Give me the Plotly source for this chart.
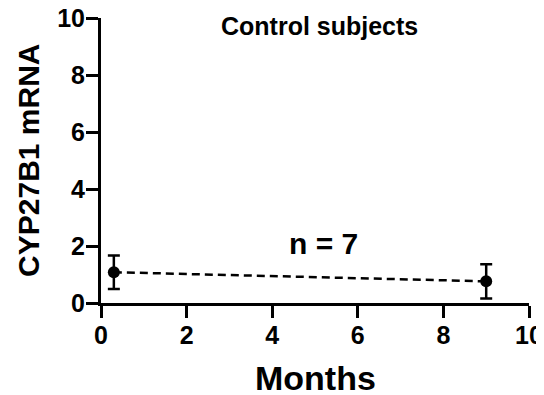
import plotly.graph_objects as go

months = [0.3, 9.0]
mrna_mean = [1.08, 0.76]
mrna_err = [0.59, 0.6]
x_ticks = [0, 2, 4, 6, 8, 10]
y_ticks = [0, 2, 4, 6, 8, 10]

FONT = "Liberation Sans, Arial, sans-serif"

fig = go.Figure()
fig.add_trace(go.Scatter(
    x=months, y=mrna_mean, mode="lines+markers",
    line=dict(color="black", width=2.5, dash="8px,5px"),
    marker=dict(color="black", size=12),
    error_y=dict(type="data", array=mrna_err, color="black", thickness=2.5, width=6),
    cliponaxis=False, showlegend=False,
))

# page body has an 8px margin, so the figure is offset by (8, 8)
fig.update_layout(
    width=536, height=387,
    margin=dict(l=93, r=15, t=10, b=91.5),
    plot_bgcolor="white", paper_bgcolor="white",
    font=dict(family=FONT, color="black"),
    annotations=[
        dict(text="<b>Control subjects</b>", x=5.1, y=9.72, xref="x", yref="y",
             showarrow=False, font=dict(size=25, family=FONT, color="black"),
             yanchor="middle", xanchor="center"),
        dict(text="<b>n = 7</b>", x=5.19, y=2.08, xref="x", yref="y",
             showarrow=False, font=dict(size=30, family=FONT, color="black"),
             yanchor="middle", xanchor="center"),
        dict(text="<b>Months</b>", x=0.5, y=-0.262, xref="paper", yref="paper",
             showarrow=False, font=dict(size=34, family=FONT, color="black"),
             yanchor="middle", xanchor="center"),
        dict(text="<b>CYP27B1 mRNA</b>", x=-0.169, y=0.501, xref="paper", yref="paper",
             showarrow=False, textangle=-90, font=dict(size=30, family=FONT, color="black"),
             yanchor="middle", xanchor="center"),
    ],
)
fig.update_xaxes(
    range=[0, 10], tickvals=x_ticks, ticktext=[f"<b>{v}</b>" for v in x_ticks],
    showline=True, linecolor="black", linewidth=3,
    ticks="outside", ticklen=12, tickwidth=3, tickcolor="black",
    showgrid=False, zeroline=False, automargin=False,
    ticklabelstandoff=-4, ticklabeloverflow="allow",
    tickfont=dict(size=25, family=FONT, color="black"),
)
fig.update_yaxes(
    range=[0, 10], tickvals=y_ticks, ticktext=[f"<b>{v}</b>" for v in y_ticks],
    showline=True, linecolor="black", linewidth=3,
    ticks="outside", ticklen=12, tickwidth=3, tickcolor="black",
    showgrid=False, zeroline=False, automargin=False,
    ticklabelstandoff=-4, ticklabeloverflow="allow",
    tickfont=dict(size=25, family=FONT, color="black"),
)

fig.write_html("out.html")
